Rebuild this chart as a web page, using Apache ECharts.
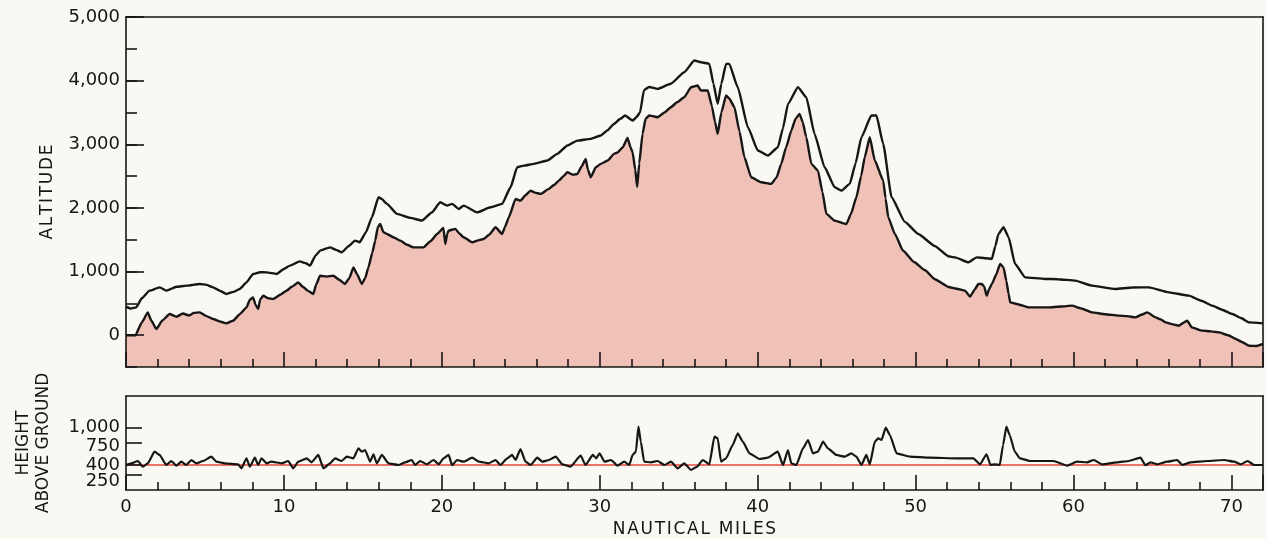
<!DOCTYPE html>
<html>
<head>
<meta charset="utf-8">
<script src="https://cdn.jsdelivr.net/npm/echarts@6/dist/echarts.min.js"></script>
<style>
html,body{margin:0;padding:0;background:#faf8f2;}
#c{width:1266px;height:539px;}
</style>
</head>
<body>
<div id="c"></div>
<script>
// ---------- DATA ----------
const terrainMiles = [0,0.6,1.0,1.38,1.6,1.92,2.3,2.76,3.2,3.6,4.0,4.3,4.67,5.1,5.51,6.0,6.36,6.8,7.2,7.63,7.85,8.05,8.2,8.37,8.5,8.69,9.0,9.32,9.8,10.17,10.5,10.91,11.2,11.5,11.86,12.05,12.29,12.7,13.13,13.5,13.87,14.15,14.4,14.65,14.93,15.15,15.35,15.6,15.78,15.95,16.1,16.3,16.52,17.0,17.37,17.8,18.2,18.84,19.3,19.7,20.1,20.22,20.35,20.43,20.86,21.1,21.38,21.92,22.3,22.65,23.0,23.4,23.82,24.0,24.24,24.67,24.98,25.3,25.62,25.9,26.25,26.78,27.1,27.41,27.7,27.95,28.3,28.58,28.85,29.11,29.25,29.43,29.75,30.06,30.5,30.9,31.12,31.45,31.76,31.95,32.08,32.25,32.37,32.5,32.71,32.9,33.13,33.4,33.66,34.1,34.5,34.9,35.35,35.78,36.2,36.41,36.84,37.1,37.3,37.47,37.7,38.0,38.2,38.53,38.85,39.16,39.59,40.22,40.86,41.2,41.49,41.8,42.13,42.4,42.65,42.85,43.08,43.4,43.82,44.1,44.35,44.88,45.62,45.9,46.25,46.55,46.78,47.1,47.42,47.95,48.1,48.27,48.69,49.2,49.9,50.6,51.22,52.08,52.6,53.13,53.45,53.75,53.98,54.2,54.35,54.5,54.65,54.83,55.1,55.35,55.57,55.75,55.89,55.99,56.41,57.16,58.43,59.2,59.9,60.5,61.17,62.0,62.87,63.4,63.92,64.3,64.67,65.2,65.5,65.83,66.3,66.67,67.0,67.2,67.5,68.16,68.7,69.22,69.8,70.27,70.7,71.12,71.6,72.0];
const terrainFeet = [0,0,200,358,230,97,230,333,290,340,310,350,358,300,254,210,186,230,330,437,560,594,480,412,560,620,580,569,640,700,760,830,760,700,648,800,935,920,935,870,805,900,1066,950,805,900,1066,1300,1486,1700,1748,1620,1591,1530,1486,1420,1380,1380,1480,1591,1685,1434,1600,1643,1670,1600,1538,1460,1490,1512,1580,1695,1591,1700,1852,2141,2115,2200,2272,2240,2220,2299,2360,2429,2500,2560,2520,2534,2650,2770,2600,2481,2638,2692,2744,2849,2870,2950,3100,2950,2874,2600,2330,2700,3164,3400,3451,3440,3425,3500,3582,3660,3739,3896,3923,3844,3844,3600,3350,3164,3500,3766,3720,3582,3200,2796,2481,2403,2377,2480,2692,2950,3215,3400,3478,3350,3110,2692,2586,2250,1906,1800,1748,1900,2167,2500,2796,3110,2744,2429,2150,1852,1591,1330,1150,1020,880,757,730,700,605,720,805,805,760,621,720,805,950,1119,1066,850,648,516,490,437,437,450,464,420,358,330,307,300,280,320,358,280,250,201,170,149,200,228,123,71,60,44,0,-60,-110,-165,-170,-138];

const flightMiles = [0,0.3,0.65,1.0,1.49,2.13,2.55,3.2,3.82,4.67,5.1,5.51,6.0,6.36,6.8,7.2,7.63,8.05,8.5,8.9,9.53,10.0,10.38,11.0,11.4,11.65,12.0,12.29,12.92,13.3,13.66,14.1,14.5,14.8,15.2,15.57,15.99,16.2,16.52,17.16,18.0,18.74,19.38,19.9,20.33,20.65,21.07,21.38,22.24,23.08,23.82,24.35,24.77,25.2,25.83,26.68,27.31,27.95,28.58,29.43,30.06,30.5,30.9,31.3,31.6,32.08,32.3,32.55,32.8,33.13,33.66,34.5,35.35,35.99,36.41,36.94,37.2,37.47,37.7,38.0,38.2,38.74,39.38,40.01,40.65,41.28,41.6,41.92,42.55,43.08,43.6,44.24,44.88,45.3,45.83,46.2,46.57,47.2,47.52,47.95,48.48,49.32,50.17,51.22,52.08,52.5,53.35,53.87,54.4,54.83,55.05,55.25,55.57,55.89,56.3,56.94,58.2,59.0,60.11,61.17,62.65,63.7,64.77,66.04,67.31,68.1,68.79,69.4,70.06,70.6,71.12,72.0];
const flightFeet = [450,420,437,580,700,751,700,760,778,805,790,751,690,648,680,726,830,962,990,987,962,1040,1093,1160,1130,1093,1250,1329,1380,1340,1302,1400,1486,1460,1620,1852,2167,2140,2063,1906,1843,1800,1931,2088,2036,2063,1984,2036,1931,2010,2063,2324,2638,2665,2692,2744,2849,2980,3058,3085,3137,3220,3321,3400,3451,3373,3420,3500,3850,3900,3871,3950,4132,4316,4289,4264,3950,3635,3950,4264,4264,3896,3267,2901,2822,2953,3250,3635,3896,3739,3164,2638,2324,2272,2377,2700,3110,3451,3451,3006,2167,1780,1591,1400,1240,1223,1145,1223,1210,1198,1400,1591,1695,1538,1119,909,884,880,857,778,726,750,751,673,621,540,464,400,333,270,201,186];

const hagMiles = [0,0.33,0.75,1.07,1.38,1.81,2.13,2.55,2.87,3.18,3.5,3.82,4.14,4.45,4.87,5.41,5.72,6.25,7.1,7.31,7.63,7.84,8.16,8.37,8.58,8.9,9.2,9.85,10.27,10.59,10.91,11.44,11.75,12.18,12.5,12.92,13.24,13.66,13.98,14.4,14.72,14.93,15.14,15.46,15.67,15.88,16.2,16.62,17.25,17.68,18.1,18.3,18.63,19.05,19.48,19.8,20.11,20.43,20.65,20.96,21.38,21.92,22.34,22.97,23.4,23.71,24.14,24.45,24.67,24.98,25.3,25.62,26.04,26.36,26.78,27.21,27.63,28.15,28.79,29.1,29.56,29.78,29.99,30.3,30.72,31.12,31.55,31.87,32.08,32.29,32.45,32.6,32.81,33.24,33.66,34.09,34.51,34.93,35.35,35.78,36.15,36.52,36.94,37.26,37.47,37.68,38.0,38.42,38.74,39.06,39.48,40.11,40.64,41.28,41.6,41.92,42.13,42.45,42.87,43.19,43.5,43.82,44.14,44.45,44.98,45.51,45.93,46.25,46.57,46.88,47.1,47.42,47.63,47.84,48.11,48.37,48.8,49.64,50.91,52.6,53.66,54.08,54.49,54.75,55.02,55.33,55.54,55.75,55.96,56.28,56.6,57.24,58.72,59.59,60.22,60.86,61.28,61.81,62.76,63.5,64.24,64.56,64.88,65.3,65.94,66.57,66.89,67.42,68.48,69.54,70.17,70.6,71.02,71.44,72.0];
const hagFeet = [400,426,463,372,426,612,559,399,463,388,452,399,479,426,463,532,452,426,410,346,506,372,516,399,506,426,452,426,463,346,452,506,442,559,346,426,506,463,532,506,665,612,638,452,570,426,559,426,399,442,479,399,463,410,479,410,506,559,396,479,452,516,452,426,479,399,506,559,479,654,452,399,516,452,479,532,410,372,548,399,559,506,585,452,479,388,452,399,559,612,1010,771,452,442,463,399,452,346,426,319,370,479,410,851,825,452,506,718,905,771,585,495,516,612,396,638,426,399,665,798,585,612,771,665,559,532,585,532,399,559,410,771,825,798,995,878,585,532,516,506,506,410,570,399,410,399,718,1010,878,612,506,463,463,388,452,442,479,410,442,463,516,396,442,410,452,479,399,442,463,479,452,410,463,399,399];

const altitudeLabels = [0,1000,2000,3000,4000,5000];
const hagTicks = [250,400,750,1000];
const hagLabels = [0,250,400,750,1000,1500]; // 0 and 1500 are blank end-stops
const clearanceFeet = 400;

// ---------- STYLE ----------
const ink = '#161616';
const font = 'DejaVu Sans';
const hs = '\u200A';
const spaced = s => s.split('').join(hs);
const zip = (xs, ys) => xs.map((x, i) => [x, ys[i]]);
const thousands = v => v >= 1000 ? Math.floor(v / 1000) + ',' + String(v % 1000).padStart(3, '0') : String(v);
const lineStyle = { color: ink, width: 1.6 };
const txt = { fontFamily: font, fontSize: 18, color: ink };

const chart = echarts.init(document.getElementById('c'), null, { renderer: 'canvas' });

const frameX = (grid) => ({
  type: 'value', gridIndex: grid, position: 'top', min: 0, max: 72, z: 10,
  axisLine: { show: true, onZero: false, lineStyle }, axisTick: { show: false },
  axisLabel: { show: false }, splitLine: { show: false }
});
const frameY = (grid, min, max) => ({
  type: 'value', gridIndex: grid, position: 'right', min, max, z: 10,
  axisLine: { show: true, onZero: false, lineStyle }, axisTick: { show: false },
  axisLabel: { show: false }, splitLine: { show: false }
});

const hagFormatter = v => {
  if (v === 0 || v === 1500) return '';
  if (v === 250) return '{lo|250}';
  if (v === 750) return '{mid|750}';
  return thousands(v);
};

const option = {
  backgroundColor: '#faf8f2',
  animation: false,
  grid: [
    { left: 126, right: 3, top: 17, height: 350, show: false },
    { left: 126, right: 3, top: 396, height: 94, show: false }
  ],
  xAxis: [
    {
      type: 'value', gridIndex: 0, position: 'bottom', min: 0, max: 72, interval: 10, z: 10,
      axisLine: { show: true, onZero: false, lineStyle },
      axisTick: { show: true, inside: true, length: 15, lineStyle },
      minorTick: { show: true, splitNumber: 5, length: 8, lineStyle },
      axisLabel: { show: false },
      splitLine: { show: false }
    },
    {
      type: 'value', gridIndex: 1, position: 'bottom', min: 0, max: 72, interval: 10, z: 10,
      axisLine: { show: true, onZero: false, lineStyle },
      axisTick: { show: true, inside: true, length: 15, lineStyle },
      minorTick: { show: true, splitNumber: 5, length: 8, lineStyle },
      axisLabel: Object.assign({ show: true, margin: 8, formatter: v => (v % 10 === 0 ? String(v) : '') }, txt),
      splitLine: { show: false },
      name: spaced('NAUTICAL MILES'), nameLocation: 'middle', nameGap: 31,
      nameTextStyle: Object.assign({}, txt, { fontSize: 17 })
    },
    frameX(0),
    frameX(1)
  ],
  yAxis: [
    {
      type: 'value', gridIndex: 0, position: 'left', min: -500, max: 5000, interval: 500, z: 10,
      axisLine: { show: true, onZero: false, lineStyle },
      axisTick: { show: true, inside: true, length: 11, lineStyle },
      axisLabel: { show: false },
      splitLine: { show: false }
    },
    {
      type: 'value', gridIndex: 0, position: 'left', min: -500, max: 5000, interval: 500, z: 10,
      axisLine: { show: false, onZero: false },
      axisTick: { show: true, inside: true, length: 18, customValues: altitudeLabels, lineStyle },
      axisLabel: Object.assign({ show: true, margin: 6, hideOverlap: false, customValues: altitudeLabels, formatter: thousands }, txt),
      splitLine: { show: false },
      name: spaced('ALTITUDE'), nameLocation: 'middle', nameGap: 70, nameRotate: 90,
      nameTextStyle: Object.assign({}, txt, { fontSize: 17 })
    },
    {
      type: 'value', gridIndex: 1, position: 'left', min: 0, max: 1500, z: 10,
      axisLine: { show: true, onZero: false, lineStyle },
      axisTick: { show: true, inside: true, length: 16, customValues: hagTicks, lineStyle },
      axisLabel: Object.assign({
        show: true, margin: 6, hideOverlap: false, customValues: hagLabels,
        showMinLabel: false, showMaxLabel: false,
        formatter: hagFormatter,
        rich: {
          lo: Object.assign({ padding: [14, 0, 0, 0] }, txt),
          mid: Object.assign({ padding: [7, 0, 0, 0] }, txt)
        }
      }, txt),
      splitLine: { show: false },
      name: 'HEIGHT\n' + 'ABOVE GROUND', nameLocation: 'middle', nameGap: 72, nameRotate: 90,
      nameTextStyle: Object.assign({}, txt, { fontSize: 17, lineHeight: 20, align: 'center' })
    },
    frameY(0, -500, 5000),
    frameY(1, 0, 1500)
  ],
  series: [
    {
      name: 'Terrain', type: 'line', xAxisIndex: 0, yAxisIndex: 0,
      data: zip(terrainMiles, terrainFeet), showSymbol: false, symbol: 'none',
      smooth: 0.15, smoothMonotone: 'x',
      lineStyle: { color: ink, width: 2.4 },
      areaStyle: { color: '#f0c1b6', opacity: 1, origin: 'start' },
      z: 2
    },
    {
      name: 'Flight path', type: 'line', xAxisIndex: 0, yAxisIndex: 0,
      data: zip(flightMiles, flightFeet), showSymbol: false, symbol: 'none',
      smooth: 0.15, smoothMonotone: 'x',
      lineStyle: { color: ink, width: 2.4 },
      z: 3
    },
    {
      name: 'Height above ground', type: 'line', xAxisIndex: 1, yAxisIndex: 2,
      data: zip(hagMiles, hagFeet), showSymbol: false, symbol: 'none',
      smooth: 0.15, smoothMonotone: 'x',
      lineStyle: { color: ink, width: 2.2 },
      z: 3,
      markLine: {
        silent: true, symbol: ['none', 'none'], label: { show: false },
        lineStyle: { color: '#e8463a', width: 1.5, type: 'solid' },
        data: [{ yAxis: clearanceFeet }],
        z: 2
      }
    }
  ]
};
chart.setOption(option);
</script>
</body>
</html>
